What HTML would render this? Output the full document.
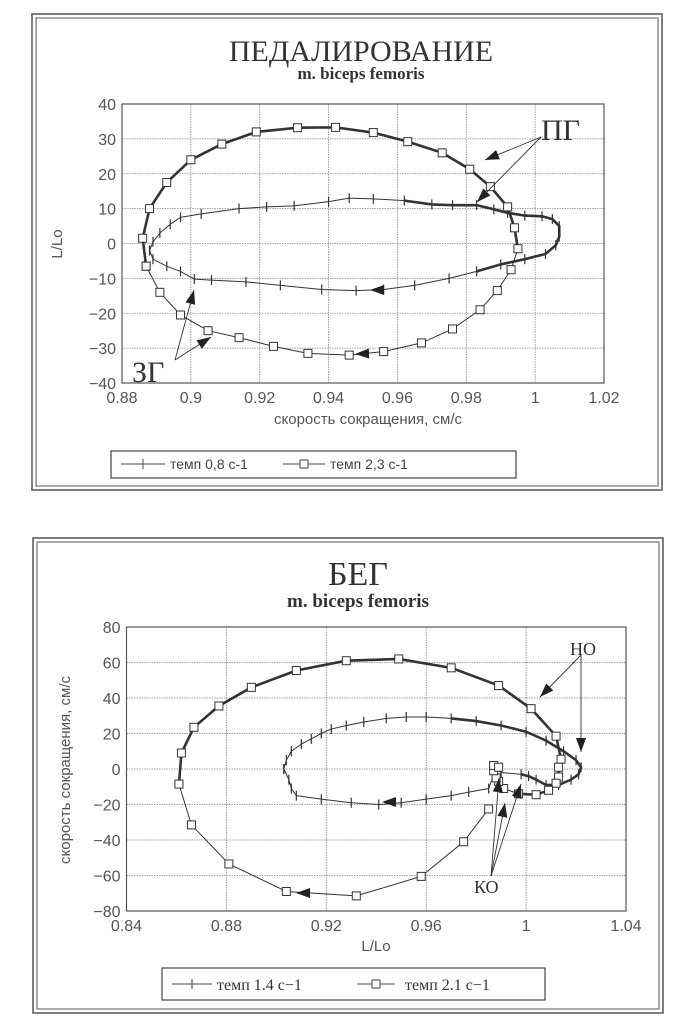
<!DOCTYPE html>
<html><head><meta charset="utf-8"><style>
body{margin:0;background:#fff;width:696px;height:1024px;overflow:hidden}
svg text{font-family:"Liberation Sans","DejaVu Sans",sans-serif}
</style></head><body>
<svg id="s" width="696" height="1024" xmlns="http://www.w3.org/2000/svg">
<g>
<rect x="32" y="14" width="630" height="476" fill="none" stroke="#555" stroke-width="1.5"/>
<rect x="36" y="18" width="622" height="468" fill="none" stroke="#555" stroke-width="1"/>
<text x="361" y="61" text-anchor="middle" font-size="30" style="font-family:'Liberation Serif',serif" fill="#333">ПЕДАЛИРОВАНИЕ</text>
<text x="361" y="79" text-anchor="middle" font-size="17" font-weight="bold" style="font-family:'Liberation Serif',serif" fill="#333">m. biceps femoris</text>
<text transform="translate(62,244) rotate(-90)" text-anchor="middle" font-size="15" fill="#555">L/Lo</text>
<text x="368" y="424" text-anchor="middle" font-size="15" fill="#555">скорость сокращения, см/с</text>
<g id="top-plot"></g>
<g>
<rect x="111" y="451" width="405" height="27" fill="none" stroke="#444" stroke-width="1.2"/>
<line x1="121" y1="464" x2="165" y2="464" stroke="#444"/><line x1="143" y1="459" x2="143" y2="469" stroke="#444"/>
<text x="170" y="469" font-size="14" fill="#444">темп 0,8 с-1</text>
<line x1="283" y1="464" x2="325" y2="464" stroke="#444"/><rect x="300" y="460" width="8" height="8" fill="#fff" stroke="#444"/>
<text x="330" y="469" font-size="14" fill="#444">темп 2,3 с-1</text>
</g>
</g>
<g>
<rect x="33" y="538" width="630" height="475" fill="none" stroke="#555" stroke-width="1.5"/>
<rect x="37" y="542" width="622" height="467" fill="none" stroke="#555" stroke-width="1"/>
<text x="358" y="585" text-anchor="middle" font-size="34" style="font-family:'Liberation Serif',serif" fill="#333">БЕГ</text>
<text x="358" y="607" text-anchor="middle" font-size="19" font-weight="bold" style="font-family:'Liberation Serif',serif" fill="#333">m. biceps femoris</text>
<text transform="translate(70,770) rotate(-90)" text-anchor="middle" font-size="15" fill="#555">скорость сокращения, см/с</text>
<text x="376" y="951" text-anchor="middle" font-size="15" fill="#555">L/Lo</text>
<g id="bot-plot"></g>
<g>
<rect x="162" y="968" width="383" height="32" fill="none" stroke="#444" stroke-width="1.2"/>
<line x1="172" y1="984" x2="212" y2="984" stroke="#444"/><line x1="192" y1="979" x2="192" y2="989" stroke="#444"/>
<text x="217" y="990" font-size="16" style="font-family:'Liberation Serif',serif" fill="#333">темп 1.4 с−1</text>
<line x1="357" y1="984" x2="395" y2="984" stroke="#444"/><rect x="372" y="980" width="8" height="8" fill="#fff" stroke="#444"/>
<text x="405" y="990" font-size="16" style="font-family:'Liberation Serif',serif" fill="#333">темп 2.1 с−1</text>
</g>
</g>
</svg>
<script>
// ---- top chart data ----
const topXTicks=[0.88,0.9,0.92,0.94,0.96,0.98,1,1.02];
const topXLabels=["0.88","0.9","0.92","0.94","0.96","0.98","1","1.02"];
const topYTicks=[40,30,20,10,0,-10,-20,-30,-40];
const topAX=[0.888,0.889,0.891,0.894,0.897,0.903,0.914,0.922,0.930,0.940,0.946,0.953,0.962,0.970,0.976,0.983,0.988,0.992,0.997,1.002,1.005,1.007,1.007,1.006,1.003,0.997,0.990,0.983,0.975,0.965,0.956,0.948,0.938,0.926,0.916,0.906,0.901,0.897,0.893,0.889,0.888];
const topAY=[-2,0.5,3,5.5,7.5,8.5,10,10.5,10.8,12,13,12.8,12.3,11.2,11,11,9.8,8.8,8,7.8,7,5,2,-0.5,-3,-4.5,-6,-8,-10,-12,-13.2,-13.5,-13.2,-12,-11,-10.5,-10.2,-8,-6.5,-4.5,-2];
const topBX=[0.887,0.886,0.888,0.893,0.900,0.909,0.919,0.931,0.942,0.953,0.963,0.973,0.981,0.987,0.992,0.994,0.995,0.993,0.989,0.984,0.976,0.967,0.956,0.946,0.934,0.924,0.914,0.905,0.897,0.891,0.887];
const topBY=[-6.5,1.5,10,17.5,24,28.5,32,33.2,33.3,31.8,29.2,26,21.3,16.3,10.5,4.5,-1.5,-7.5,-13.5,-19,-24.5,-28.5,-31,-32,-31.5,-29.5,-27,-25,-20.5,-14,-6.5];
// ---- bottom chart data ----
const botXTicks=[0.84,0.88,0.92,0.96,1,1.04];
const botXLabels=["0.84","0.88","0.92","0.96","1","1.04"];
const botYTicks=[80,60,40,20,0,-20,-40,-60,-80];
const botAX=[0.903,0.904,0.906,0.910,0.914,0.918,0.922,0.928,0.935,0.944,0.952,0.960,0.970,0.980,0.990,1.000,1.008,1.015,1.020,1.022,1.021,1.018,1.013,1.008,1.004,1.001,0.998,0.990,0.988,0.985,0.977,0.970,0.960,0.950,0.941,0.930,0.918,0.908,0.906,0.905,0.903];
const botAY=[0,5,10,14,17,20,22.5,24.5,26.5,28.5,29.3,29.3,28.5,27,24.5,21,16,10,5,1,-3,-6,-9,-9,-6,-4,-3,-2,0,-11,-13,-15,-17,-19,-20,-19,-17,-15,-11,-6,0];
const botBX=[0.985,0.975,0.958,0.932,0.904,0.881,0.866,0.861,0.862,0.867,0.877,0.890,0.908,0.928,0.949,0.970,0.989,1.002,1.012,1.014,1.013,1.013,1.012,1.009,1.004,0.997,0.991,0.989,0.988,0.987,0.987,0.989];
const botBY=[-22.5,-41,-60.5,-71.5,-69,-53.5,-31.5,-8.5,9,23.5,35.5,46,55.5,61,62,57,47,34,18.5,5.5,1,-4.5,-8,-12,-14.5,-14,-11,-7,-5,-1,2,1];

const NS="http://www.w3.org/2000/svg";
function mk(p,t,a){const e=document.createElementNS(NS,t);for(const k in a)e.setAttribute(k,a[k]);p.appendChild(e);return e;}
function chart(g,cfg){
 const X=v=>cfg.x0+(v-cfg.xmin)/(cfg.xmax-cfg.xmin)*(cfg.x1-cfg.x0);
 const Y=v=>cfg.y0+(cfg.ymax-v)/(cfg.ymax-cfg.ymin)*(cfg.y1-cfg.y0);
 cfg.xt.forEach((v,i)=>{
  const l=mk(g,'line',{x1:X(v),x2:X(v),y1:cfg.y0,y2:cfg.y1,stroke:'#888','stroke-width':0.8,'stroke-dasharray':'1.5 1'});
  
  
  const t=mk(g,'text',{x:X(v),y:cfg.y1+20,'text-anchor':'middle','font-size':16,fill:'#555'});t.textContent=cfg.xl[i];
  
  
 });
 cfg.yt.forEach(v=>{
  const l=mk(g,'line',{x1:cfg.x0,x2:cfg.x1,y1:Y(v),y2:Y(v),stroke:'#888','stroke-width':0.8,'stroke-dasharray':'1.5 1'});
  
  
  const t=mk(g,'text',{x:cfg.x0-6,y:Y(v)+6,'text-anchor':'end','font-size':16,fill:'#555'});t.textContent=String(v).replace('-','−');
  
  
 });
 const fr=mk(g,'rect',{x:cfg.x0,y:cfg.y0,width:cfg.x1-cfg.x0,height:cfg.y1-cfg.y0,fill:'none',stroke:'#555','stroke-width':1.2});
 
 
 cfg.series.forEach(s=>{
  const pts=s.x.map((v,i)=>X(v)+','+Y(s.y[i])).join(' ');
  const pl=mk(g,'polyline',{points:pts,fill:'none',stroke:'#333','stroke-width':1});
  
  
  const th=s.x.slice(s.t0,s.t1+1).map((v,i)=>X(v)+','+Y(s.y[i+s.t0])).join(' ');
  const tp=mk(g,'polyline',{points:th,fill:'none',stroke:'#333','stroke-width':2.6});
  
  
  s.x.forEach((v,i)=>{
   const px=X(v),py=Y(s.y[i]);let m;
   if(s.mark==='sq') m=mk(g,'rect',{x:px-4,y:py-4,width:8,height:8,fill:'#fff',stroke:'#333','stroke-width':1});
   else m=mk(g,'line',{x1:px,x2:px,y1:py-5,y2:py+5,stroke:'#333','stroke-width':1.2});
   
   
  });
 });
}
function arrowHead(g,x1,y1,x2,y2){
 const a=Math.atan2(y2-y1,x2-x1),L=14,W=5;
 const p=[[x2,y2],[x2-L*Math.cos(a)+W*Math.sin(a),y2-L*Math.sin(a)-W*Math.cos(a)],[x2-L*Math.cos(a)-W*Math.sin(a),y2-L*Math.sin(a)+W*Math.cos(a)]];
 const e=mk(g,'polygon',{points:p.map(q=>q.join(',')).join(' '),fill:'#222'});
 
 
}
function pointer(g,x1,y1,x2,y2){
 const l=mk(g,'line',{x1,y1,x2,y2,stroke:'#333','stroke-width':0.9});
 
 
 arrowHead(g,x1,y1,x2,y2);
}
function label(g,x,y,txt,fs,name){
 const t=mk(g,'text',{x,y,'font-size':fs,fill:'#333',style:"font-family:'Liberation Serif',serif"});t.textContent=txt;
 
 
}
const tg=document.getElementById('top-plot');
chart(tg,{x0:122,x1:604,y0:104,y1:383,xmin:0.88,xmax:1.02,ymin:-40,ymax:40,xt:topXTicks,xl:topXLabels,yt:topYTicks,
 series:[{name:'series-tempo-0-8',x:topAX,y:topAY,mark:'tick',t0:12,t1:27},{name:'series-tempo-2-3',x:topBX,y:topBY,mark:'sq',t0:0,t1:16}]});
arrowHead(tg,400,290,370,290);arrowHead(tg,385,353,355,354);
label(tg,541,140,'ПГ',30,'label-pg');
pointer(tg,541,137,485,160);pointer(tg,541,137,477,202);
label(tg,132,382,'ЗГ',30,'label-zg');
pointer(tg,175,360,194,290);pointer(tg,175,360,211,337);
const bg=document.getElementById('bot-plot');
chart(bg,{x0:126.5,x1:626,y0:627,y1:911,xmin:0.84,xmax:1.04,ymin:-80,ymax:80,xt:botXTicks,xl:botXLabels,yt:botYTicks,
 series:[{name:'series-tempo-1-4',x:botAX,y:botAY,mark:'tick',t0:12,t1:26},{name:'series-tempo-2-1',x:botBX,y:botBY,mark:'sq',t0:7,t1:25}]});
arrowHead(bg,412,802,382,802);arrowHead(bg,328,893,296,893);
label(bg,570,655,'НО',18,'label-no');
pointer(bg,581,655,540,697);pointer(bg,581,655,581,752);
label(bg,474,893,'КО',18,'label-ko');
pointer(bg,491,876,499,778);pointer(bg,491,876,505,803);pointer(bg,491,876,521,784);
</script>
</body></html>
